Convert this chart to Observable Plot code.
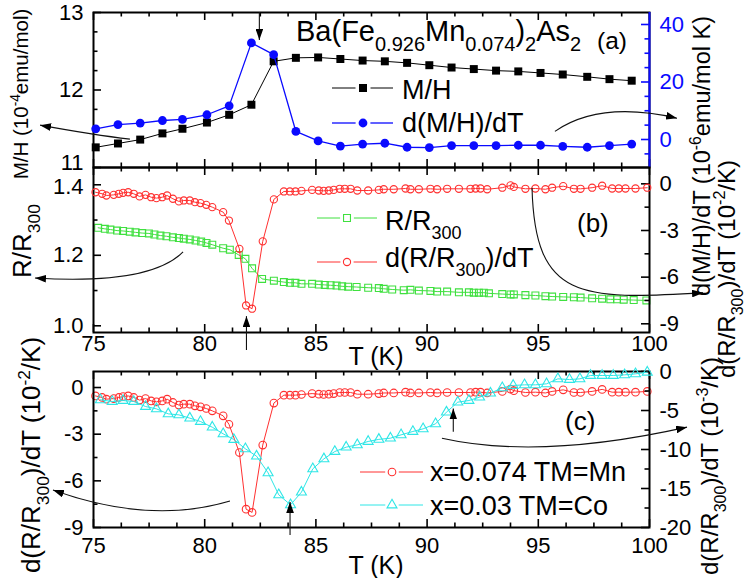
<!DOCTYPE html>
<html>
<head>
<meta charset="utf-8">
<script src="https://cdn.jsdelivr.net/npm/d3@7"></script>
<script src="https://cdn.jsdelivr.net/npm/@observablehq/plot@0.6"></script>
<style>
html,body{margin:0;padding:0;background:#fff;overflow:hidden}
#chart{position:relative;width:747px;height:578px;background:#fff}
#chart svg{position:absolute;left:0;top:0}
</style>
</head>
<body>
<div id="chart"></div>
<script>
// ---------- data ----------
// panel (a): magnetisation, x = 0.074 Mn
const tempMH = [75.1, 76.1, 77.1, 78.1, 79.0, 80.1, 81.1, 82.1, 83.1, 84.1, 85.1, 86.1, 87.1,
  88.1, 89.1, 90.1, 91.1, 92.1, 93.1, 94.1, 95.1, 96.1, 97.2, 98.2, 99.2];
const mOverH = [11.26, 11.31, 11.36, 11.44, 11.50, 11.58, 11.68, 11.81, 12.37, 12.415, 12.42, 12.40, 12.38,
  12.37, 12.35, 12.32, 12.29, 12.27, 12.25, 12.24, 12.22, 12.20, 12.17, 12.14, 12.12];
const dMHdT = [3.7, 5.2, 5.7, 6.6, 7.0, 8.6, 11.7, 33.6, 29.5, 2.8, -0.5, -2.3, -1.6,
  -1.3, -2.7, -2.8, -2.1, -2.1, -2.1, -2.0, -2.0, -2.4, -2.7, -2.1, -1.6];

// panel (b): normalised resistance, x = 0.074 Mn
const tempR = [75.21, 75.51, 75.76, 76.06, 76.33, 76.63, 76.89, 77.19, 77.49, 77.74, 78.01, 78.28, 78.57, 78.84,
  79.06, 79.33, 79.59, 79.84, 80.08, 80.34, 80.83, 81.13, 81.53, 81.83, 82.13, 82.58, 83.11, 83.56, 83.83, 84.08,
  84.35, 84.83, 85.13, 85.4, 85.66, 85.93, 86.18, 86.45, 86.83, 87.35, 87.83,
  88.05, 88.43, 88.95, 89.25, 89.63, 90.15, 90.45, 90.9, 91.43, 91.88, 92.1, 92.33, 92.55, 92.78, 93.38, 93.75,
  93.9, 94.42, 94.87, 95.32, 95.62, 96.12, 96.6, 96.9, 97.42, 97.87, 98.24, 98.54, 98.84, 99.29, 99.86];
const rOverR300 = [1.278, 1.275, 1.273, 1.270, 1.269, 1.267, 1.265, 1.263, 1.262, 1.259, 1.256, 1.254, 1.251, 1.249,
  1.247, 1.245, 1.242, 1.239, 1.235, 1.230, 1.220, 1.216, 1.201, 1.190, 1.163, 1.133, 1.128, 1.124, 1.122, 1.122,
  1.119, 1.119, 1.117, 1.116, 1.115, 1.114, 1.112, 1.111, 1.110, 1.108, 1.107,
  1.105, 1.103, 1.101, 1.102, 1.100, 1.099, 1.097, 1.097, 1.095, 1.095, 1.094, 1.094, 1.094, 1.092, 1.090, 1.089,
  1.089, 1.087, 1.086, 1.084, 1.083, 1.082, 1.081, 1.080, 1.078, 1.077, 1.075, 1.075, 1.074, 1.073, 1.072];

// d(R/R300)/dT, x = 0.074 TM = Mn  (10^-2 /K), shown in (b) and (c)
const tempMn = [75.09, 75.39, 75.58, 75.91, 76.14, 76.33, 76.56, 76.81, 77.07, 77.34, 77.59, 77.83, 78.09, 78.31,
  78.57, 78.84, 79.06, 79.33, 79.56, 79.81, 80.07, 80.34, 80.83, 81.09, 81.56, 81.86, 82.13, 82.61, 83.11, 83.56,
  83.83, 84.08, 84.35, 84.83, 85.13, 85.35, 85.58, 85.8, 86.07, 86.3, 86.56, 86.86, 87.35, 87.83,
  88.05, 88.5, 89.03, 89.25, 89.63, 90.15, 90.45, 90.9, 91.43, 91.95, 92.18, 92.4, 92.7, 93.38, 93.75, 93.9,
  94.42, 94.87, 95.32, 95.62, 96.12, 96.6, 96.9, 97.42, 97.87, 98.32, 98.62, 98.92, 99.37, 99.9];
const dRdTMn = [-0.54, -0.64, -0.75, -0.71, -0.64, -0.58, -0.54, -0.64, -0.81, -0.71, -0.86, -0.92, -0.86, -0.75,
  -0.96, -1.13, -1.07, -1.07, -1.18, -1.24, -1.35, -1.5, -1.82, -2.36, -4.18, -7.82, -8.03, -3.70, -1.0, -0.49,
  -0.49, -0.49, -0.45, -0.39, -0.43, -0.45, -0.43, -0.39, -0.32, -0.32, -0.32, -0.43, -0.43, -0.39,
  -0.35, -0.35, -0.3, -0.35, -0.35, -0.32, -0.35, -0.32, -0.32, -0.32, -0.3, -0.3, -0.35, -0.25, -0.1, -0.2,
  -0.32, -0.3, -0.35, -0.25, -0.15, -0.32, -0.32, -0.25, -0.12, -0.3, -0.3, -0.3, -0.3, -0.25];

// d(R/R300)/dT, x = 0.03 TM = Co  (10^-3 /K), panel (c) right axis
const tempCo = [75.31, 75.84, 76.33, 76.81, 77.34, 77.83, 78.36, 78.84, 79.33, 79.81, 80.34, 80.83, 81.31, 81.83,
  82.33, 82.85, 83.33, 83.86, 84.35, 84.86, 85.36, 85.85, 86.36, 86.86, 87.35, 87.83, 88.35, 88.83, 89.36, 89.82,
  90.38, 90.87, 91.38, 91.88, 92.36, 92.85, 93.38, 93.87, 94.38, 94.87, 95.37, 95.88, 96.4, 96.87, 97.35, 97.87,
  98.37, 98.88, 99.37, 99.9];
const dRdTCo = [-3.63, -3.85, -3.72, -3.85, -4.49, -4.79, -5.43, -5.56, -5.98, -6.41, -7.14, -7.99, -8.72, -9.91,
  -10.85, -12.99, -15.81, -17.09, -15.47, -12.48, -11.2, -10.26, -9.7, -9.4, -8.97, -8.7, -8.55, -8.12, -7.69, -7.35,
  -6.71, -5.21, -3.93, -3.72, -3.29, -2.78, -2.09, -1.79, -1.71, -1.71, -1.58, -0.94, -1.03, -0.94, -0.51, -0.51,
  -0.51, -0.43, -0.3, -0.09];

// tick values
const xMajor = [75, 80, 85, 90, 95, 100];
const yTicksA = [11, 12, 13];
const yTicksARight = [0, 20, 40];
const yTicksB = [1.0, 1.2, 1.4];
const yTicksBRight = [0, -3, -6, -9];
const yTicksC = [0, -3, -6, -9];
const yTicksCRight = [0, -5, -10, -15, -20];

// ---------- layout ----------
const W = 747, H = 578, ML = 93, MR = 98, PW = W - ML - MR;
const FONT = "'Liberation Sans', Arial, Helvetica, sans-serif";
const BLUE = "#0a0aff", RED = "#ff3030", GREEN = "#3fe03f", CYAN = "#2ee6e6";
const PA = {top: 12, bottom: 167}, PB = {top: 167, bottom: 332}, PC = {top: 371, bottom: 527};

const rows = (xs, ys) => xs.map((t, i) => ({T: t, v: ys[i]}));

function xTickMarks(p) {
  const ph = p.bottom - p.top;
  const minor = d3.range(75, 100.001, 1.25).filter(v => !xMajor.includes(v));
  const o = {stroke: "black", strokeWidth: 1.6};
  return [
    Plot.tickX(xMajor, {x: d => d, insetTop: ph - 8, ...o}),
    Plot.tickX(xMajor, {x: d => d, insetBottom: ph - 8, ...o}),
    Plot.tickX(minor, {x: d => d, insetTop: ph - 4.5, ...o}),
    Plot.tickX(minor, {x: d => d, insetBottom: ph - 4.5, ...o})
  ];
}
function yTickMarks(side, major, minor, color = "black") {
  const key = side === "left" ? "insetRight" : "insetLeft";
  const o = {stroke: color, strokeWidth: 1.6};
  return [
    Plot.tickY(major, {y: d => d, [key]: PW - 8, ...o}),
    Plot.tickY(minor, {y: d => d, [key]: PW - 4.5, ...o})
  ];
}
function yLabels(side, vals, fmt = d => String(d), color = "black", dy = 0) {
  return Plot.text(vals, {y: d => d, text: fmt, frameAnchor: side, dx: side === "left" ? -10 : 10, dy,
    textAnchor: side === "left" ? "end" : "start", fontSize: 22, fill: color});
}
function xLabels(pad) {
  return Plot.text(xMajor, {x: d => d, text: d => String(d), frameAnchor: "bottom", lineAnchor: "top", dy: pad, fontSize: 22});
}
function makePlot(p, yDomain, marks) {
  return Plot.plot({
    width: W, height: H,
    marginTop: p.top, marginBottom: H - p.bottom, marginLeft: ML, marginRight: MR,
    x: {domain: [75, 100], axis: null},
    y: {domain: yDomain, axis: null},
    style: {background: "none", fontFamily: FONT, overflow: "visible", color: "black"},
    marks
  });
}

// ---------- panel (a) ----------
const mhRows = rows(tempMH, mOverH), dmhRows = rows(tempMH, dMHdT);
const plotA = makePlot(PA, [11, 13], [
  ...xTickMarks(PA),
  ...yTickMarks("left", yTicksA, [11.25, 11.5, 11.75, 12.25, 12.5, 12.75]),
  yLabels("left", yTicksA.filter(v => v !== 11)),
  yLabels("left", yTicksA.filter(v => v === 11), d => String(d), "black", -5),
  Plot.line(mhRows, {x: "T", y: "v", stroke: "black", strokeWidth: 1}),
  Plot.dot(mhRows, {x: "T", y: "v", symbol: "square", r: 4.5, fill: "black", stroke: "none"}),
  Plot.frame({stroke: "black", strokeWidth: 2})
]);
const plotA2 = makePlot(PA, [-9.74, 44.17], [
  ...yTickMarks("right", yTicksARight, [-5, 5, 10, 15, 25, 30, 35], BLUE),
  yLabels("right", yTicksARight, d => String(d), BLUE),
  Plot.line(dmhRows, {x: "T", y: "v", stroke: BLUE, strokeWidth: 1.3}),
  Plot.dot(dmhRows, {x: "T", y: "v", symbol: "circle", r: 4.4, fill: BLUE, stroke: "none"}),
  Plot.ruleX([100], {stroke: BLUE, strokeWidth: 2})
]);

// ---------- panel (b) ----------
const rRows = rows(tempR, rOverR300), mnRows = rows(tempMn, dRdTMn);
const plotB = makePlot(PB, [0.981, 1.449], [
  ...xTickMarks(PB),
  ...yTickMarks("left", yTicksB, [1.1, 1.3]),
  yLabels("left", yTicksB.filter(v => v !== 1.4), d => d.toFixed(1)),
  yLabels("left", yTicksB.filter(v => v === 1.4), d => d.toFixed(1), "black", 2),
  xLabels(3),
  Plot.line(rRows, {x: "T", y: "v", stroke: GREEN, strokeWidth: 1}),
  Plot.dot(rRows, {x: "T", y: "v", symbol: "square", r: 3.9, fill: "none", stroke: GREEN, strokeWidth: 1.1}),
  Plot.frame({stroke: "black", strokeWidth: 2})
]);
const plotB2 = makePlot(PB, [-9.56, 1.05], [
  ...yTickMarks("right", yTicksBRight, [-1.5, -4.5, -7.5]),
  yLabels("right", yTicksBRight),
  Plot.line(mnRows, {x: "T", y: "v", stroke: RED, strokeWidth: 1}),
  Plot.dot(mnRows, {x: "T", y: "v", symbol: "circle", r: 3.6, fill: "none", stroke: RED, strokeWidth: 1.1})
]);

// ---------- panel (c) ----------
const coRows = rows(tempCo, dRdTCo);
const plotC = makePlot(PC, [-9, 1.03], [
  ...xTickMarks(PC),
  ...yTickMarks("left", yTicksC, [-1.5, -4.5, -7.5]),
  yLabels("left", yTicksC),
  xLabels(10),
  Plot.line(mnRows, {x: "T", y: "v", stroke: RED, strokeWidth: 1}),
  Plot.dot(mnRows, {x: "T", y: "v", symbol: "circle", r: 3.8, fill: "none", stroke: RED, strokeWidth: 1.1}),
  Plot.frame({stroke: "black", strokeWidth: 2})
]);
const plotC2 = makePlot(PC, [-20, 0], [
  ...yTickMarks("right", yTicksCRight, [-2.5, -7.5, -12.5, -17.5]),
  yLabels("right", yTicksCRight),
  Plot.line(coRows, {x: "T", y: "v", stroke: CYAN, strokeWidth: 1}),
  Plot.dot(coRows, {x: "T", y: "v", symbol: "triangle", r: 3.7, fill: "none", stroke: CYAN, strokeWidth: 1.1})
]);

const chart = document.getElementById("chart");
for (const p of [plotA, plotA2, plotB, plotB2, plotC, plotC2]) chart.appendChild(p);

// ---------- annotations ----------
const svg = d3.select(chart).append("svg").attr("width", W).attr("height", H)
  .attr("font-family", FONT).style("overflow", "visible");
svg.append("defs").append("marker").attr("id", "ah").attr("viewBox", "0 0 10 7")
  .attr("refX", 10).attr("refY", 3.5).attr("markerWidth", 11).attr("markerHeight", 7.7)
  .attr("markerUnits", "userSpaceOnUse").attr("orient", "auto")
  .append("path").attr("d", "M0,0L10,3.5L0,7Z").attr("fill", "black");

function scaler(plot, p, yDomain) {
  let sx, sy;
  try { sx = plot.scale("x"); sy = plot.scale("y"); } catch (e) {}
  const fx = sx && sx.apply ? v => sx.apply(v) : d3.scaleLinear([75, 100], [ML, W - MR]);
  const fy = sy && sy.apply ? v => sy.apply(v) : d3.scaleLinear(yDomain, [p.bottom, p.top]);
  return ([t, v]) => [fx(t), fy(v)];
}
const sA = scaler(plotA, PA, [11, 13]), sB = scaler(plotB, PB, [0.981, 1.449]), sC = scaler(plotC, PC, [-9, 1.03]);

// arrows in data units of each panel's left axis
const arrowsA = [[[82.48, 13.0], [82.48, 12.64]],
  [[76.66, 11.36], [75.09, 11.41], [72.62, 11.54]],
  [[95.77, 11.46], [97.8, 11.86], [101.26, 11.63]]];
const arrowsB = [[[81.9, 0.93], [81.9, 1.026]],
  [[79.05, 1.208], [77.56, 1.114], [72.39, 1.134]],
  [[94.74, 1.390], [94.87, 1.072], [96.9, 1.072], [102.43, 1.092]]];
const arrowsC = [[[83.86, -9.51], [83.86, -7.39]],
  [[91.2, -2.88], [91.2, -1.38]],
  [[81.16, -7.33], [77.56, -8.87], [73.2, -6.62]],
  [[90.69, -3.29], [95.1, -4.7], [101.71, -2.58]]];
function drawArrow(pts, s) {
  const q = pts.map(s);
  let d = `M${q[0]}`;
  if (q.length === 2) d += `L${q[1]}`;
  else if (q.length === 3) d += `Q${q[1]} ${q[2]}`;
  else d += `C${q[1]} ${q[2]} ${q[3]}`;
  svg.append("path").attr("d", d).attr("fill", "none").attr("stroke", "#111")
    .attr("stroke-width", 1.1).attr("marker-end", "url(#ah)");
}
arrowsA.forEach(a => drawArrow(a, sA));
arrowsB.forEach(a => drawArrow(a, sB));
arrowsC.forEach(a => drawArrow(a, sC));

// rich text with sub/superscripts
function rich(x, y, parts, size, {anchor = "start", rotate = 0, fill = "black", small = size * 0.67} = {}) {
  const t = svg.append("text").attr("transform", `translate(${x},${y}) rotate(${rotate})`)
    .attr("text-anchor", anchor).attr("font-size", size).attr("fill", fill);
  let shift = 0;
  for (const [txt, kind] of parts) {
    const target = kind === "sub" ? size * 0.33 : kind === "sup" ? -size * 0.4 : 0;
    const ts = t.append("tspan").attr("dy", target - shift).text(txt);
    if (kind) ts.attr("font-size", small);
    shift = target;
  }
  return t;
}

// title and panel tags
rich(296, 41, [["Ba(Fe"], ["0.926", "sub"], ["Mn"], ["0.074", "sub"], [")"], ["2", "sub"], ["As"], ["2", "sub"]], 29, {small: 20});
rich(597, 49, [["(a)"]], 24.5);
rich(577, 232, [["(b)"]], 26);
rich(565, 430, [["(c)"]], 26);

// legends
function legendItem(y, xa, xb, xm, r, symbol, color, filled, stroke = 1) {
  svg.append("line").attr("x1", xa).attr("x2", xm - r - 3).attr("y1", y).attr("y2", y).attr("stroke", color).attr("stroke-width", stroke);
  svg.append("line").attr("x1", xm + r + 3).attr("x2", xb).attr("y1", y).attr("y2", y).attr("stroke", color).attr("stroke-width", stroke);
  svg.append("path").attr("transform", `translate(${xm},${y})`)
    .attr("d", d3.symbol(symbol, Math.PI * r * r)())
    .attr("fill", filled ? color : "none").attr("stroke", filled ? "none" : color).attr("stroke-width", 1.1);
}
legendItem(88, 332, 393, 363, 4.5, d3.symbolSquare, "black", true);
rich(402, 99, [["M/H"]], 27);
legendItem(123, 332, 393, 363, 4.4, d3.symbolCircle, BLUE, true, 1.3);
rich(402, 132, [["d(M/H)/dT"]], 27);

legendItem(218, 317, 377, 347, 3.9, d3.symbolSquare, GREEN, false);
rich(385, 230, [["R/R"], ["300", "sub"]], 27, {small: 18});
legendItem(262, 317, 377, 347, 3.6, d3.symbolCircle, RED, false);
rich(385, 267, [["d(R/R"], ["300", "sub"], [")/dT"]], 27, {small: 18});

legendItem(472, 360, 423, 392, 3.8, d3.symbolCircle, RED, false);
rich(430, 481, [["x=0.074 TM=Mn"]], 27);
legendItem(505, 360, 423, 392, 3.7, d3.symbolTriangle, CYAN, false);
rich(430, 515, [["x=0.03 TM=Co"]], 27);

// axis titles
rich(376, 365, [["T (K)"]], 25, {anchor: "middle"});
rich(376, 574, [["T (K)"]], 25, {anchor: "middle"});
rich(28, 94, [["M/H (10"], ["-4", "sup"], ["emu/mol)"]], 20.5, {anchor: "middle", rotate: -90});
rich(31, 241, [["R/R"], ["300", "sub"]], 26, {anchor: "middle", rotate: -90});
rich(40, 455, [["d(R/R"], ["300", "sub"], [")/dT (10"], ["-2", "sup"], ["/K)"]], 26, {anchor: "middle", rotate: -90});
rich(710, 156, [["d(M/H)/dT (10"], ["-6", "sup"], ["emu/mol K)"]], 23.5, {anchor: "middle", rotate: -90});
rich(735, 269, [["d(R/R"], ["300", "sub"], [")/dT (10"], ["-2", "sup"], ["/K)"]], 24, {anchor: "middle", rotate: -90});
rich(718, 466, [["d(R/R"], ["300", "sub"], [")/dT (10"], ["-3", "sup"], ["/K)"]], 24, {anchor: "middle", rotate: -90});
</script>
</body>
</html>
